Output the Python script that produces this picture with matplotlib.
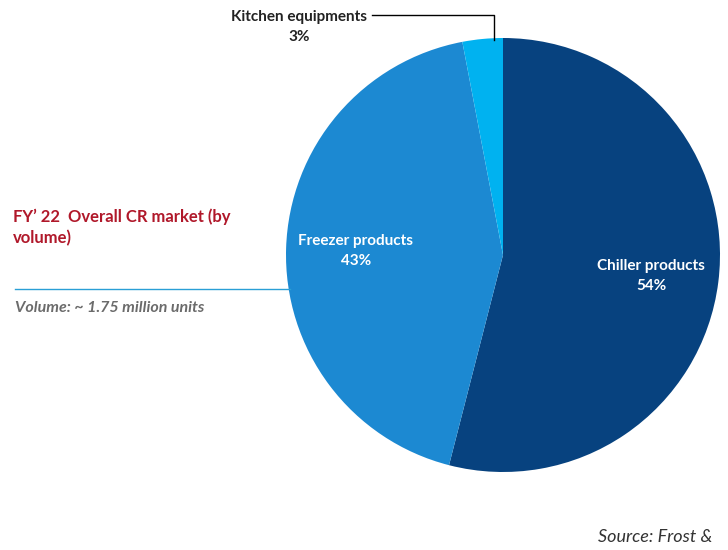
import matplotlib
matplotlib.use("Agg")
import matplotlib.pyplot as plt
from matplotlib.lines import Line2D

categories = ["Chiller products", "Freezer products", "Kitchen equipments"]
shares = [54, 43, 3]
colors = ["#07427f", "#1c89d2", "#00b2f0"]

plt.rcParams['font.family'] = ['Lato', 'DejaVu Sans']

W, H = 728, 550
fig = plt.figure(figsize=(W / 100, H / 100), dpi=100)
cx, cy, r = 503, 255, 217
ax = fig.add_axes([(cx - r) / W, 1 - (cy + r) / H, 2 * r / W, 2 * r / H])
ax.pie(shares, colors=colors, startangle=90, counterclock=False, radius=1.0,
       wedgeprops=dict(linewidth=0))
ax.set_xlim(-1, 1)
ax.set_ylim(-1, 1)
ax.set_aspect('equal')
ax.axis('off')

def fx(px):
    return px / W

def fy(py):
    return 1 - py / H

lab_kw = dict(color='white', fontweight='bold', fontsize=11, ha='center', va='center')
fig.text(fx(651), fy(266), categories[0], **lab_kw)
fig.text(fx(651), fy(286), f"{shares[0]}%", **lab_kw)
fig.text(fx(356), fy(241), categories[1], **lab_kw)
fig.text(fx(356), fy(261), f"{shares[1]}%", **lab_kw)

k_kw = dict(color='#222222', fontweight='bold', fontsize=11, ha='center', va='center')
fig.text(fx(299), fy(17), categories[2], **k_kw)
fig.text(fx(299), fy(37), f"{shares[2]}%", **k_kw)
fig.add_artist(Line2D([fx(372), fx(494), fx(494)], [fy(15), fy(15), fy(40)],
                      transform=fig.transFigure, color='black', linewidth=1))

fig.text(fx(13), fy(217), "FY\u2019 22  Overall CR market (by", color='#b0182a',
         fontweight='bold', fontsize=12, ha='left', va='center')
fig.text(fx(13), fy(238), "volume)", color='#b0182a',
         fontweight='bold', fontsize=12, ha='left', va='center')
fig.add_artist(Line2D([fx(15), fx(290)], [fy(289), fy(289)],
                      transform=fig.transFigure, color='#2a9fd6', linewidth=1))
fig.text(fx(15), fy(308), "Volume: ~ 1.75 million units", color='#6b6b6b',
         fontweight='bold', fontstyle='italic', fontsize=11.5, ha='left', va='center')

fig.text(fx(598), fy(537), "Source: Frost &", color='#333333',
         fontstyle='italic', fontsize=13, ha='left', va='center')

fig.savefig("out.png", dpi=100)
